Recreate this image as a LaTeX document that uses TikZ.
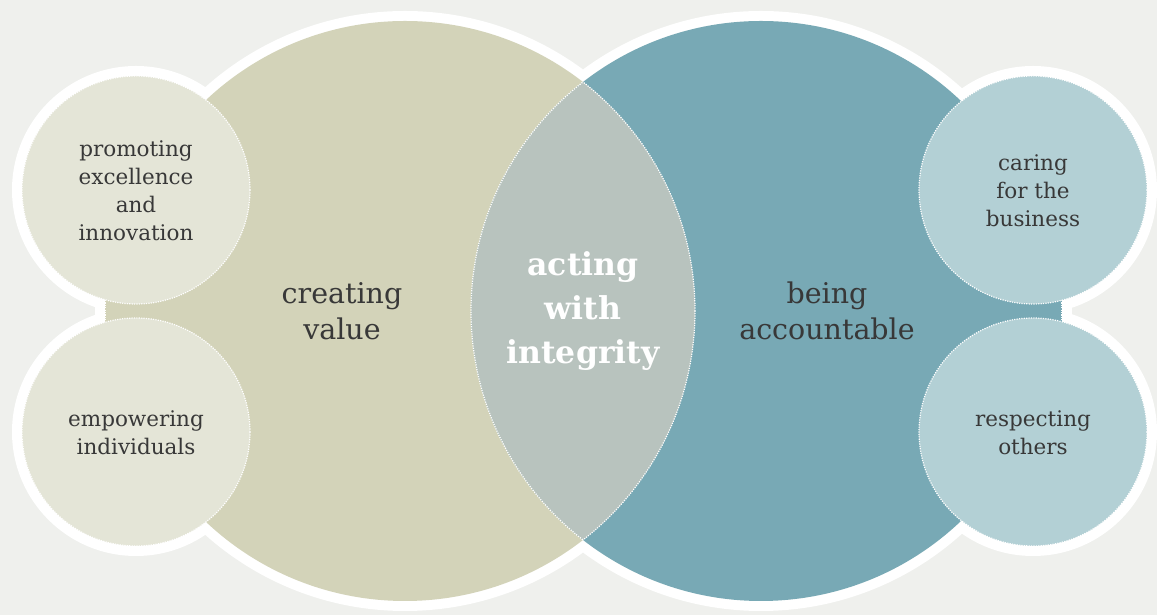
\documentclass[tikz,border=0pt]{standalone}
\usepackage{fontspec}
\setmainfont{DejaVu Serif}
\usepackage{tikz}
\usetikzlibrary{math}
\definecolor{PaperGrey}{HTML}{EFF0ED}
\definecolor{ValueBeige}{HTML}{D3D3B9}
\definecolor{ValueLight}{HTML}{E4E5D7}
\definecolor{AccTeal}{HTML}{78A9B5}
\definecolor{AccLight}{HTML}{B3D0D5}
\definecolor{LensGrey}{HTML}{B8C3BE}
\colorlet{textfg}{black!78}
\tikzset{%
  dot line/.style={white, line width=1.2pt, dash pattern=on 1.2pt off 1.2pt},
  small label/.style={align=center, text=textfg, font=\fontsize{21.5}{28}\selectfont},
  big label/.style={align=center, text=textfg, font=\fontsize{28.5}{36}\selectfont},
  core label/.style={align=center, text=white, font=\bfseries\fontsize{31.5}{44}\selectfont}
}

\begin{document}
\begin{tikzpicture}[x=1pt,y=1pt]
    \tikzmath{
      \R=290; % big radius
      \r=114; % small radius
      \w=10;  % white rim
      \Lx=405; \Rx=761; \cy=304;
      \sx=136; \tx=1033; % small circle columns
      \uy=425; \dy=183;  % small circle rows
      \mx=583; % middle of the lens
    }
    \useasboundingbox (0,0) rectangle (1157,615);
    \fill[PaperGrey] (0,0) rectangle (1157,615);
    % white rim round the whole shape:
    \fill[white] (105-\w,285-\w) rectangle (1062+\w,325+\w);
    \foreach \x in {\Lx,\Rx} {
      \fill[white] (\x,\cy) circle (\R+\w);
    }
    \foreach \x in {\sx,\tx} {
      \foreach \y in {\uy,\dy} {
        \fill[white] (\x,\y) circle (\r+\w);
      }
    }
    % the two values:
    \fill[ValueBeige] (105,285) rectangle (\mx,325);
    \fill[AccTeal] (\mx,285) rectangle (1062,325);
    \fill[ValueBeige] (\Lx,\cy) circle (\R);
    \fill[AccTeal] (\Rx,\cy) circle (\R);
    \begin{scope}
      \clip (\Lx,\cy) circle (\R);
      \fill[LensGrey] (\Rx,\cy) circle (\R);
      \draw[dot line] (\Rx,\cy) circle (\R);
    \end{scope}
    \begin{scope}
      \clip (\Rx,\cy) circle (\R);
      \draw[dot line] (\Lx,\cy) circle (\R);
    \end{scope}
    \draw[dot line] (105,285) -- (105,325);
    \draw[dot line] (1062,285) -- (1062,325);
    % small circles:
    \foreach \y in {\uy,\dy} {
      \fill[ValueLight] (\sx,\y) circle (\r);
      \draw[dot line] (\sx,\y) circle (\r);
      \fill[AccLight] (\tx,\y) circle (\r);
      \draw[dot line] (\tx,\y) circle (\r);
    }
    % labels:
    \node[big label] (creating) at (342,304) {creating\\value};
    \node[big label] (accountable) at (827,304) {being\\accountable};
    \node[core label] (integrity) at (\mx,304) {acting\\with\\integrity};
    \node[small label] (promoting) at (\sx,424) {promoting\\excellence\\and\\innovation};
    \node[small label] (empowering) at (\sx,182) {empowering\\individuals};
    \node[small label] (caring) at (\tx,424) {caring\\for the\\business};
    \node[small label] (respecting) at (\tx,182) {respecting\\others};
  \end{tikzpicture}
\end{document}
